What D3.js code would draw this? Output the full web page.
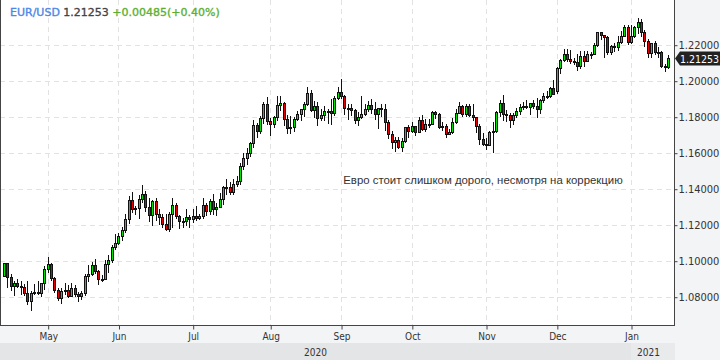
<!DOCTYPE html>
<html><head><meta charset="utf-8">
<script src="https://cdn.jsdelivr.net/npm/d3@7/dist/d3.min.js"></script>
<style>body{margin:0;background:#fff}svg{display:block}</style>
</head><body>
<svg id="c" width="720" height="360"></svg>
<script>
const dates = ["2020-04-14","2020-04-15","2020-04-16","2020-04-17","2020-04-20","2020-04-21","2020-04-22","2020-04-23","2020-04-24","2020-04-27","2020-04-28","2020-04-29","2020-04-30",
"2020-05-01","2020-05-04","2020-05-05","2020-05-06","2020-05-07","2020-05-08","2020-05-11","2020-05-12","2020-05-13","2020-05-14","2020-05-15","2020-05-18","2020-05-19","2020-05-20","2020-05-21","2020-05-22","2020-05-25","2020-05-26","2020-05-27","2020-05-28","2020-05-29",
"2020-06-01","2020-06-02","2020-06-03","2020-06-04","2020-06-05","2020-06-08","2020-06-09","2020-06-10","2020-06-11","2020-06-12","2020-06-15","2020-06-16","2020-06-17","2020-06-18","2020-06-19","2020-06-22","2020-06-23","2020-06-24","2020-06-25","2020-06-26","2020-06-29","2020-06-30",
"2020-07-01","2020-07-02","2020-07-03","2020-07-06","2020-07-07","2020-07-08","2020-07-09","2020-07-10","2020-07-13","2020-07-14","2020-07-15","2020-07-16","2020-07-17","2020-07-20","2020-07-21","2020-07-22","2020-07-23","2020-07-24","2020-07-27","2020-07-28","2020-07-29","2020-07-30","2020-07-31",
"2020-08-03","2020-08-04","2020-08-05","2020-08-06","2020-08-07","2020-08-10","2020-08-11","2020-08-12","2020-08-13","2020-08-14","2020-08-17","2020-08-18","2020-08-19","2020-08-20","2020-08-21","2020-08-24","2020-08-25","2020-08-26","2020-08-27","2020-08-28","2020-08-31",
"2020-09-01","2020-09-02","2020-09-03","2020-09-04","2020-09-08","2020-09-09","2020-09-10","2020-09-11","2020-09-14","2020-09-15","2020-09-16","2020-09-17","2020-09-18","2020-09-21","2020-09-22","2020-09-23","2020-09-24","2020-09-25","2020-09-28","2020-09-29","2020-09-30",
"2020-10-01","2020-10-02","2020-10-05","2020-10-06","2020-10-07","2020-10-08","2020-10-09","2020-10-12","2020-10-13","2020-10-14","2020-10-15","2020-10-16","2020-10-19","2020-10-20","2020-10-21","2020-10-22","2020-10-23","2020-10-26","2020-10-27","2020-10-28","2020-10-29","2020-10-30",
"2020-11-02","2020-11-03","2020-11-04","2020-11-05","2020-11-06","2020-11-09","2020-11-10","2020-11-11","2020-11-12","2020-11-13","2020-11-16","2020-11-17","2020-11-18","2020-11-19","2020-11-20","2020-11-23","2020-11-24","2020-11-25","2020-11-26","2020-11-27","2020-11-30",
"2020-12-01","2020-12-02","2020-12-03","2020-12-04","2020-12-07","2020-12-08","2020-12-09","2020-12-10","2020-12-11","2020-12-14","2020-12-15","2020-12-16","2020-12-17","2020-12-18","2020-12-21","2020-12-22","2020-12-23","2020-12-24","2020-12-28","2020-12-29","2020-12-30","2020-12-31",
"2021-01-04","2021-01-05","2021-01-06","2021-01-07","2021-01-08","2021-01-11","2021-01-12","2021-01-13","2021-01-14","2021-01-15","2021-01-18","2021-01-19"];

const open = [1.0915,1.0986,1.0910,1.0862,1.0875,1.0862,1.0856,1.0822,1.0777,1.0822,1.0825,1.0822,1.0875,
1.0955,1.0981,1.0906,1.0839,1.0795,1.0832,1.0840,1.0806,1.0848,1.0817,1.0804,1.0819,1.0914,1.0924,1.0975,1.0945,1.0899,1.0900,1.0979,1.1006,1.1077,
1.1101,1.1135,1.1172,1.1234,1.1337,1.1289,1.1295,1.1343,1.1373,1.1298,1.1256,1.1330,1.1262,1.1243,1.1204,1.1178,1.1259,1.1307,1.1250,1.1220,1.1220,1.1243,
1.1234,1.1250,1.1240,1.1246,1.1309,1.1275,1.1330,1.1287,1.1299,1.1343,1.1410,1.1412,1.1383,1.1427,1.1444,1.1525,1.1569,1.1596,1.1655,1.1752,1.1718,1.1790,1.1870,
1.1778,1.1761,1.1799,1.1866,1.1876,1.1787,1.1737,1.1740,1.1785,1.1813,1.1842,1.1869,1.1931,1.1835,1.1858,1.1793,1.1811,1.1832,1.1834,1.1820,1.1903,
1.1937,1.1913,1.1851,1.1851,1.1838,1.1779,1.1800,1.1813,1.1845,1.1865,1.1845,1.1814,1.1851,1.1840,1.1771,1.1702,1.1658,1.1670,1.1632,1.1667,1.1744,
1.1720,1.1747,1.1715,1.1780,1.1734,1.1761,1.1762,1.1824,1.1814,1.1744,1.1747,1.1706,1.1717,1.1768,1.1823,1.1862,1.1813,1.1859,1.1812,1.1796,1.1747,1.1674,
1.1647,1.1642,1.1716,1.1723,1.1825,1.1875,1.1813,1.1812,1.1779,1.1810,1.1834,1.1854,1.1860,1.1852,1.1874,1.1857,1.1840,1.1893,1.1915,1.1914,1.1962,
1.1943,1.2069,1.2113,1.2146,1.2121,1.2110,1.2103,1.2079,1.2137,1.2112,1.2148,1.2150,1.2199,1.2268,1.2256,1.2242,1.2159,1.2192,1.2186,1.2213,1.2247,1.2298,
1.2216,1.2248,1.2298,1.2326,1.2271,1.2220,1.2152,1.2208,1.2157,1.2157,1.2080,1.20768];

const high = [1.0990,1.0990,1.0926,1.0890,1.0900,1.0890,1.0872,1.0888,1.0829,1.0868,1.0890,1.0876,1.0973,
1.1019,1.0985,1.0912,1.0850,1.0848,1.0875,1.0864,1.0875,1.0866,1.0827,1.0833,1.0927,1.0976,1.0993,1.1008,1.0950,1.0920,1.1004,1.1030,1.1088,1.1147,
1.1155,1.1190,1.1258,1.1361,1.1384,1.1306,1.1363,1.1422,1.1386,1.1346,1.1335,1.1349,1.1288,1.1258,1.1257,1.1272,1.1349,1.1322,1.1254,1.1240,1.1288,1.1255,
1.1287,1.1302,1.1258,1.1346,1.1320,1.1345,1.1371,1.1319,1.1375,1.1414,1.1452,1.1436,1.1452,1.1468,1.1541,1.1601,1.1627,1.1660,1.1781,1.1765,1.1806,1.1880,1.1909,
1.1795,1.1805,1.1916,1.1916,1.1883,1.1808,1.1805,1.1800,1.1829,1.1843,1.1883,1.1966,1.1951,1.1885,1.1883,1.1844,1.1857,1.1843,1.1900,1.1917,1.1966,
1.2011,1.1918,1.1868,1.1869,1.1845,1.1826,1.1917,1.1872,1.1888,1.1900,1.1882,1.1851,1.1872,1.1872,1.1784,1.1721,1.1688,1.1686,1.1682,1.1745,1.1755,
1.1771,1.1747,1.1798,1.1809,1.1785,1.1786,1.1832,1.1830,1.1822,1.1770,1.1760,1.1732,1.1790,1.1843,1.1880,1.1864,1.1869,1.1869,1.1870,1.1799,1.1759,1.1710,
1.1680,1.1722,1.1770,1.1834,1.1891,1.1920,1.1838,1.1818,1.1820,1.1848,1.1870,1.1884,1.1893,1.1867,1.1891,1.1905,1.1900,1.1930,1.1940,1.1964,1.2004,
1.2078,1.2123,1.2176,1.2177,1.2168,1.2128,1.2148,1.2164,1.2163,1.2164,1.2160,1.2212,1.2273,1.2272,1.2256,1.2250,1.2200,1.2210,1.2250,1.2276,1.2310,1.2310,
1.2310,1.2303,1.2349,1.2340,1.2280,1.2233,1.2212,1.2222,1.2185,1.2165,1.2090,1.2144];

const low = [1.0913,1.0853,1.0840,1.0812,1.0852,1.0815,1.0812,1.0757,1.0727,1.0815,1.0815,1.0805,1.0845,
1.0940,1.0895,1.0827,1.0782,1.0767,1.0816,1.0796,1.0802,1.0806,1.0775,1.0790,1.0808,1.0888,1.0918,1.0932,1.0870,1.0888,1.0896,1.0937,1.0994,1.1067,
1.1094,1.1115,1.1161,1.1208,1.1273,1.1259,1.1236,1.1328,1.1276,1.1221,1.1201,1.1227,1.1206,1.1185,1.1168,1.1166,1.1190,1.1237,1.1182,1.1186,1.1200,1.1189,
1.1216,1.1225,1.1230,1.1238,1.1254,1.1262,1.1257,1.1252,1.1299,1.1316,1.1370,1.1372,1.1372,1.1416,1.1426,1.1510,1.1536,1.1584,1.1630,1.1689,1.1707,1.1764,1.1762,
1.1696,1.1740,1.1781,1.1836,1.1754,1.1711,1.1712,1.1721,1.1781,1.1779,1.1805,1.1867,1.1829,1.1801,1.1753,1.1779,1.1784,1.1767,1.1762,1.1812,1.1901,
1.1904,1.1813,1.1789,1.1811,1.1765,1.1753,1.1795,1.1811,1.1830,1.1822,1.1788,1.1737,1.1802,1.1727,1.1682,1.1627,1.1612,1.1627,1.1612,1.1661,1.1685,
1.1714,1.1696,1.1713,1.1727,1.1718,1.1742,1.1760,1.1792,1.1737,1.1728,1.1689,1.1702,1.1709,1.1765,1.1820,1.1805,1.1803,1.1804,1.1780,1.1717,1.1650,1.1640,
1.1622,1.1640,1.1603,1.1714,1.1805,1.1784,1.1777,1.1745,1.1758,1.1800,1.1814,1.1840,1.1847,1.1814,1.1850,1.1801,1.1822,1.1880,1.1902,1.1910,1.1925,
1.1929,1.2040,1.2110,1.2111,1.2096,1.2090,1.2058,1.2069,1.2083,1.2118,1.2125,1.2148,1.2193,1.2233,1.2130,1.2150,1.2151,1.2165,1.2173,1.2208,1.2247,1.2206,
1.2211,1.2242,1.2265,1.2250,1.2192,1.2133,1.2133,1.2149,1.2133,1.2077,1.2054,1.2068];

const close = [1.0986,1.0910,1.0862,1.0875,1.0862,1.0856,1.0822,1.0777,1.0822,1.0825,1.0822,1.0875,1.0955,
1.0981,1.0906,1.0839,1.0795,1.0832,1.0840,1.0806,1.0848,1.0817,1.0804,1.0819,1.0914,1.0924,1.0975,1.0945,1.0899,1.0900,1.0979,1.1006,1.1077,1.1101,
1.1135,1.1172,1.1234,1.1337,1.1289,1.1295,1.1343,1.1373,1.1298,1.1256,1.1330,1.1262,1.1243,1.1204,1.1178,1.1259,1.1307,1.1250,1.1220,1.1220,1.1243,1.1234,
1.1250,1.1240,1.1246,1.1309,1.1275,1.1330,1.1287,1.1299,1.1343,1.1410,1.1412,1.1383,1.1427,1.1444,1.1525,1.1569,1.1596,1.1655,1.1752,1.1718,1.1790,1.1870,1.1778,
1.1761,1.1799,1.1866,1.1876,1.1787,1.1737,1.1740,1.1785,1.1813,1.1842,1.1869,1.1931,1.1835,1.1858,1.1793,1.1811,1.1832,1.1834,1.1820,1.1903,1.1937,
1.1913,1.1851,1.1851,1.1838,1.1779,1.1800,1.1813,1.1845,1.1865,1.1845,1.1814,1.1851,1.1840,1.1771,1.1702,1.1658,1.1670,1.1632,1.1667,1.1744,1.1720,
1.1747,1.1715,1.1780,1.1734,1.1761,1.1762,1.1824,1.1814,1.1744,1.1747,1.1706,1.1717,1.1768,1.1823,1.1862,1.1813,1.1859,1.1812,1.1796,1.1747,1.1674,1.1647,
1.1642,1.1716,1.1723,1.1825,1.1875,1.1813,1.1812,1.1779,1.1810,1.1834,1.1854,1.1860,1.1852,1.1874,1.1857,1.1840,1.1893,1.1915,1.1914,1.1962,1.1927,
1.2069,1.2113,1.2146,1.2121,1.2110,1.2103,1.2079,1.2137,1.2112,1.2148,1.2150,1.2199,1.2268,1.2256,1.2242,1.2159,1.2192,1.2186,1.2213,1.2247,1.2298,1.2216,
1.2248,1.2298,1.2326,1.2271,1.2220,1.2152,1.2208,1.2157,1.2157,1.2080,1.20768,1.21253];

const priceTicks = [1.08, 1.10, 1.12, 1.14, 1.16, 1.18, 1.20, 1.22];
const monthNames = ["Jan","Feb","Mar","Apr","May","Jun","Jul","Aug","Sep","Oct","Nov","Dec"];
const symbol = "EUR/USD";
const lastPrice = 1.21253;
const change = 0.00485;
const changePct = 0.40;
const note = "Евро стоит слишком дорого, несмотря на коррекцию";

const svg = d3.select("#c");
const W = 720, H = 360, PR = 674, PB = 325;
const axisFont = "'DejaVu Sans Condensed','DejaVu Sans',sans-serif";

const x = d3.scalePoint().domain(dates).range([3.85, 668.1]);
const y = d3.scaleLinear().domain([1.06428, 1.24483]).range([PB, 0]);

// backgrounds
svg.append("rect").attr("x",0).attr("y",0).attr("width",W).attr("height",H).attr("fill","#f3f4f6");
svg.append("rect").attr("x",0).attr("y",0).attr("width",PR).attr("height",PB).attr("fill","#fff");

// month ticks: first trading day of each month (skip first partial month)
const parse = d3.timeParse("%Y-%m-%d");
const monthStarts = [];
dates.forEach((d,i)=>{ if(i>0 && parse(d).getMonth()!==parse(dates[i-1]).getMonth()) monthStarts.push(d); });

// grid
const g = svg.append("g");
g.selectAll("line.hg").data(priceTicks).join("line")
  .attr("x1",0).attr("x2",PR).attr("y1",d=>Math.round(y(d))+0.5).attr("y2",d=>Math.round(y(d))+0.5)
  .attr("stroke","#e2e2e2").attr("stroke-dasharray","5,4");
g.selectAll("line.vg").data(monthStarts).join("line")
  .attr("y1",0).attr("y2",PB).attr("x1",d=>Math.round(x(d))+0.5).attr("x2",d=>Math.round(x(d))+0.5)
  .attr("stroke","#e2e2e2").attr("stroke-dasharray","5,4");

// annotation
svg.append("text").attr("x",483).attr("y",184).attr("text-anchor","middle")
  .attr("font-family","'Liberation Sans',Arial,sans-serif").attr("font-size",11.4).attr("fill","#333").text(note);

// candles
const idx = d3.range(dates.length);
const cg = svg.append("g");
cg.selectAll("line.wick").data(idx).join("line")
  .attr("x1",i=>Math.round(x(dates[i]))+0.5).attr("x2",i=>Math.round(x(dates[i]))+0.5)
  .attr("y1",i=>Math.round(y(high[i]))).attr("y2",i=>Math.round(y(low[i]))+1)
  .attr("stroke","#111").attr("stroke-width",1);
cg.selectAll("rect.body").data(idx).join("rect")
  .attr("x",i=>Math.round(x(dates[i]))-0.5)
  .attr("width",2)
  .attr("y",i=>Math.round(y(Math.max(open[i],close[i])))+0.5)
  .attr("height",i=>Math.max(1,Math.round(y(Math.min(open[i],close[i])))-Math.round(y(Math.max(open[i],close[i])))))
  .attr("fill",i=>close[i]>=open[i]?"#00e400":"#e40000")
  .attr("stroke","#111").attr("stroke-width",1);

// frame
svg.append("line").attr("x1",0.5).attr("x2",0.5).attr("y1",0).attr("y2",PB).attr("stroke","#444");
svg.append("line").attr("x1",PR+0.5).attr("x2",PR+0.5).attr("y1",0).attr("y2",PB+1).attr("stroke","#444");
svg.append("line").attr("x1",0).attr("x2",PR+1).attr("y1",PB+0.5).attr("y2",PB+0.5).attr("stroke","#444");

// right axis
const ya = svg.append("g").attr("transform",`translate(${PR+0.5},0.5)`)
  .call(d3.axisRight(y).tickValues(priceTicks).tickFormat(d3.format(".5f")).tickSize(3).tickPadding(1));
ya.select(".domain").remove();
ya.selectAll("line").attr("stroke","#444");
ya.selectAll("text").attr("font-family",axisFont).attr("font-size",11).attr("fill","#333");

// bottom axis
const xa = svg.append("g").attr("transform",`translate(0.5,${PB+0.5})`)
  .call(d3.axisBottom(x).tickValues(monthStarts).tickFormat(d=>monthNames[parse(d).getMonth()]).tickSize(4).tickPadding(3));
xa.select(".domain").remove();
xa.selectAll("line").attr("stroke","#444");
xa.selectAll("text").attr("font-family",axisFont).attr("font-size",10).attr("fill","#333");

// year band
const janX = Math.round(x(monthStarts[monthStarts.length-1]));
svg.append("rect").attr("x",0).attr("y",343).attr("width",janX).attr("height",17).attr("fill","#e4e5e7");
svg.append("rect").attr("x",janX).attr("y",343).attr("width",PR-janX+1).attr("height",17).attr("fill","#e9eaec");
svg.append("text").attr("x",janX/2).attr("y",356).attr("text-anchor","middle")
  .attr("font-family",axisFont).attr("font-size",10).attr("fill","#333").text("2020");
svg.append("text").attr("x",janX+6).attr("y",356)
  .attr("font-family",axisFont).attr("font-size",10).attr("fill","#333").text("2021");

// last price marker
const ly = Math.round(y(lastPrice))+0.5;
svg.append("path").attr("d",`M${PR+1},${ly} L${PR+6},${ly-7} L${W},${ly-7} L${W},${ly+7} L${PR+6},${ly+7} Z`).attr("fill","#222");
svg.append("text").attr("x",W-1).attr("y",ly+4).attr("text-anchor","end").attr("font-family",axisFont).attr("font-size",10.5).attr("fill","#fff").text(lastPrice.toFixed(5));

// header
const hdr = svg.append("text").attr("x",10).attr("y",16).attr("font-family","'DejaVu Sans',sans-serif").attr("font-size",11).attr("stroke-width",0.35);
hdr.append("tspan").attr("fill","#4d86e6").attr("stroke","#4d86e6").text(symbol+" ");
hdr.append("tspan").attr("fill","#444").attr("stroke","#444").text(lastPrice.toFixed(5)+" ");
hdr.append("tspan").attr("fill","#5cb030").attr("stroke","#5cb030").text((change>=0?"+":"")+change.toFixed(5)+"("+(change>=0?"+":"")+changePct.toFixed(2)+"%)");
</script>
</body></html>
